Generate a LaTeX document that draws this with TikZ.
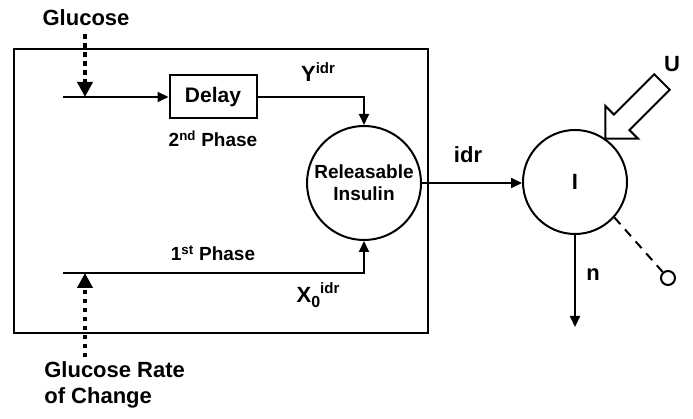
\documentclass[tikz,border=0pt]{standalone}
\usepackage{fontspec}
\setmainfont{Liberation Sans}
\usetikzlibrary{arrows.meta,calc}
\newcommand{\supr}[1]{\raisebox{0.75ex}{\fontsize{15}{15}\selectfont #1}}
\newcommand{\subr}[1]{\raisebox{-0.45ex}{\fontsize{16}{16}\selectfont #1}}

\begin{document}
\begin{tikzpicture}[x=1pt,y=-1pt,line width=2pt,
  biglbl/.style={font=\fontsize{22}{26}\selectfont\bfseries},
  midlbl/.style={font=\fontsize{19}{22}\selectfont\bfseries},
  flow/.style={-{Triangle[length=11pt,width=10pt]}},
  dotflow/.style={line width=4.5pt,dash pattern=on 4.5pt off 4.5pt,-{Triangle[length=15pt,width=15pt]}}]
  \useasboundingbox (0,0) rectangle (693,419);
  \draw (14,49) rectangle (428,333);
  \node[biglbl] (gluc) at (86,18) {Glucose};
  \node[draw,minimum width=87pt,minimum height=43pt,font=\fontsize{21}{25}\selectfont\bfseries] (delay) at (213,97) {Delay};
  \node[draw,circle,minimum size=114pt,inner sep=0pt,midlbl,align=center] (rel) at (364,183) {Releasable\\Insulin};
  \node[draw,circle,minimum size=104pt,inner sep=0pt,biglbl] (ins) at (575,182) {I};
  \node[draw,circle,minimum size=14pt,inner sep=0pt] (out) at (668,278) {};
  \coordinate (tstart) at (63,97);
  \coordinate (tjoin) at (85,97);
  \coordinate (bstart) at (63,273);
  \coordinate (bjoin) at (85,273);
  \coordinate (nend) at (575,327);
  \node[midlbl] (ph2) at (213,139) {2\textsuperscript{nd} Phase};
  \node[midlbl] (ph1) at (213,253) {1\textsuperscript{st} Phase};
  \node[biglbl] (ylbl) at (318,72) {Y\supr{idr}};
  \node[biglbl] (xlbl) at (318,295) {X\subr{0}\supr{idr}};
  \node[biglbl] (idrlbl) at (468,155) {idr};
  \node[biglbl] (nlbl) at (593,275) {n};
  \node[biglbl] (ulbl) at (672,64) {U};
  \node[biglbl,align=left,anchor=west] (grc) at (40,385) {Glucose Rate\\of Change};
  \draw[flow] (tstart) -- (delay);
  \draw[flow] (delay.east) -| (rel.north);
  \draw[flow] (bstart) -| (rel.south);
  \draw[dotflow] (gluc.south -| tjoin) ++(0,4) -- (tjoin);
  \draw[dotflow] (grc.north -| bjoin) -- (bjoin);
  \draw[flow] (rel.east) -- (rel.east -| ins.west);
  \draw[flow] (ins.south) -- (nend);
  \draw[dash pattern=on 9pt off 7pt] (ins.-42) -- (out);
  \draw[fill=white,shift={(ins.55)},rotate=45]
    (0,0) -- (23,23) -- (23,11) -- (80,11) -- (80,-11) -- (23,-11) -- (23,-23) -- cycle;
\end{tikzpicture}
\end{document}
